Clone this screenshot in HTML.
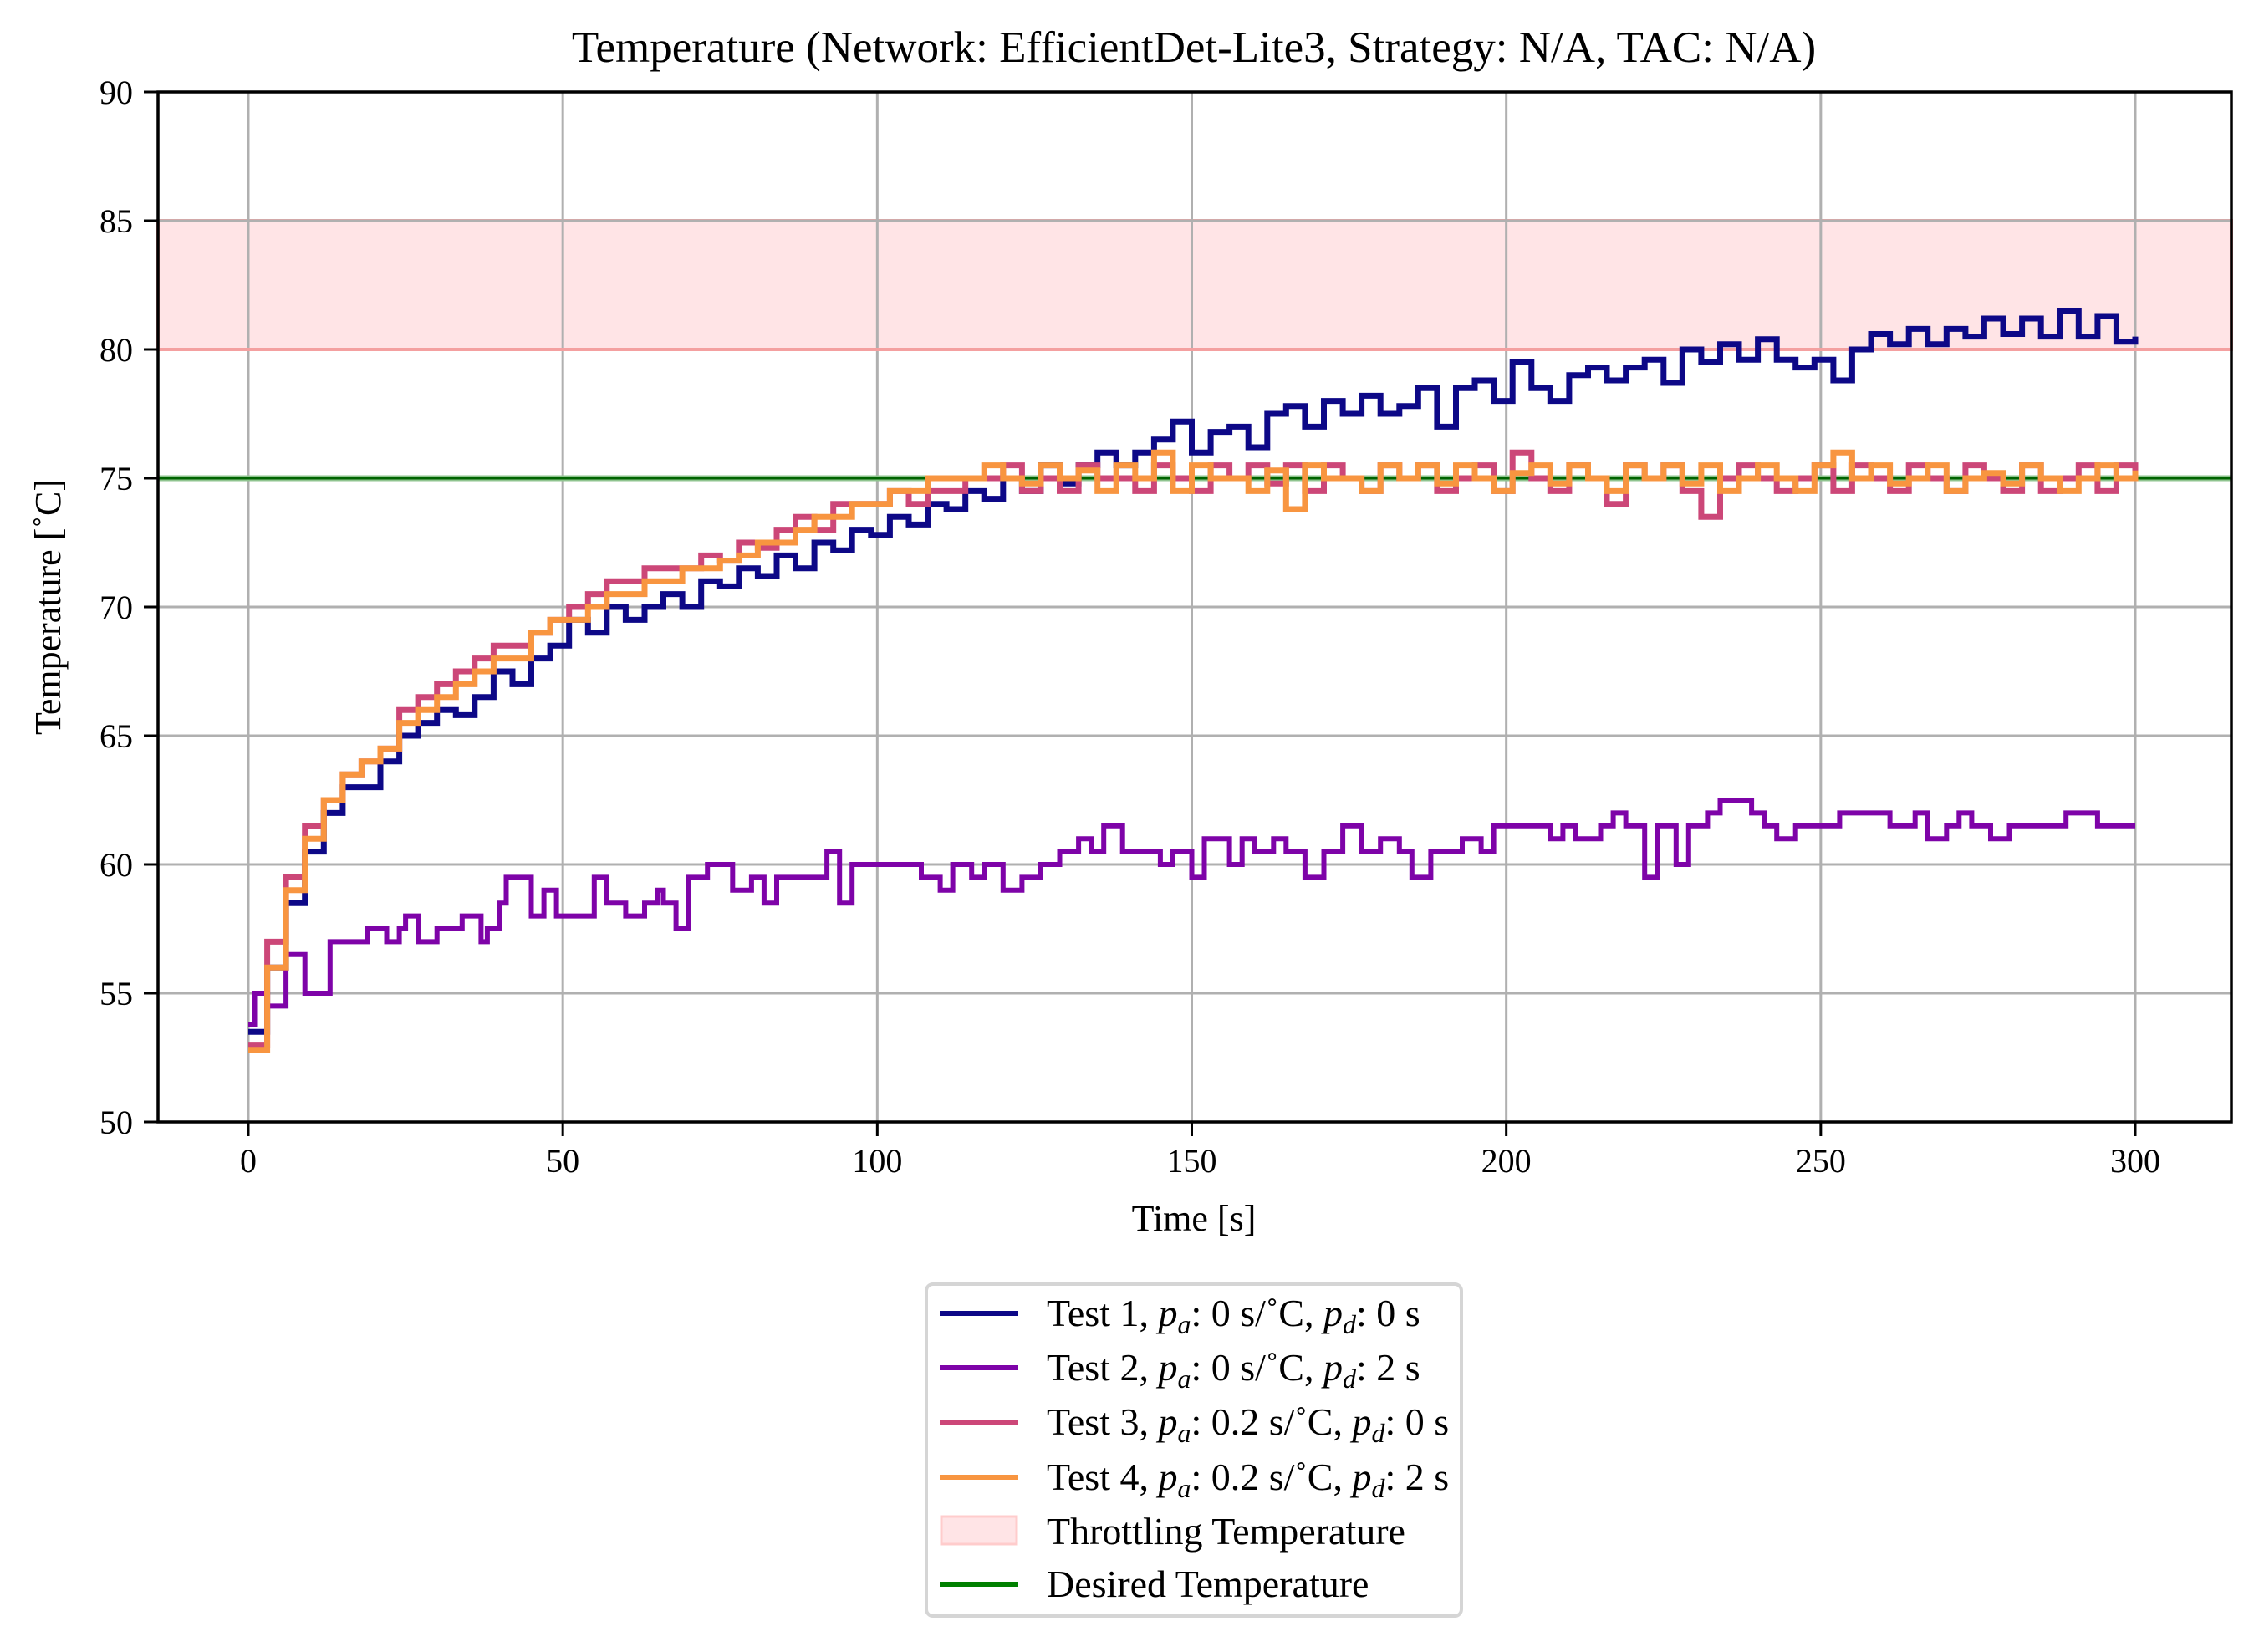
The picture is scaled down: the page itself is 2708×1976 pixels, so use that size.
<!DOCTYPE html>
<html><head><meta charset="utf-8"><style>
html,body{margin:0;padding:0;background:#fff}
svg{display:block;font-family:"Liberation Serif","DejaVu Serif",serif}
</style></head><body>
<svg id="chart" xmlns="http://www.w3.org/2000/svg" width="2708" height="1976" viewBox="0 0 2708 1976">
<text x="1428" y="74" font-size="53" text-anchor="middle">Temperature (Network: EfficientDet-Lite3, Strategy: N/A, TAC: N/A)</text>
<text x="1428" y="1472" font-size="44" text-anchor="middle">Time [s]</text>
<text x="0" y="0" font-size="44" text-anchor="middle" transform="translate(72,726) rotate(-90)">Temperature [˚C]</text>
<g id="plot"></g>
<g>
<rect x="1108" y="1536" width="640" height="397" rx="8" fill="#fff" stroke="#d5d5d5" stroke-width="4"/>
<g><line x1="1124" y1="1571" x2="1218" y2="1571" stroke="#0d0887" stroke-width="6"/><text x="1252" y="1586" font-size="46">Test 1, <tspan font-style="italic">p<tspan font-size="32" dy="9">a</tspan></tspan><tspan dy="-9">: 0 s/˚C, </tspan><tspan font-style="italic">p<tspan font-size="32" dy="9">d</tspan></tspan><tspan dy="-9">: 0 s</tspan></text></g>
<g><line x1="1124" y1="1636" x2="1218" y2="1636" stroke="#7e03a8" stroke-width="6"/><text x="1252" y="1651" font-size="46">Test 2, <tspan font-style="italic">p<tspan font-size="32" dy="9">a</tspan></tspan><tspan dy="-9">: 0 s/˚C, </tspan><tspan font-style="italic">p<tspan font-size="32" dy="9">d</tspan></tspan><tspan dy="-9">: 2 s</tspan></text></g>
<g><line x1="1124" y1="1701" x2="1218" y2="1701" stroke="#cc4778" stroke-width="6"/><text x="1252" y="1716" font-size="46">Test 3, <tspan font-style="italic">p<tspan font-size="32" dy="9">a</tspan></tspan><tspan dy="-9">: 0.2 s/˚C, </tspan><tspan font-style="italic">p<tspan font-size="32" dy="9">d</tspan></tspan><tspan dy="-9">: 0 s</tspan></text></g>
<g><line x1="1124" y1="1767" x2="1218" y2="1767" stroke="#f89540" stroke-width="6"/><text x="1252" y="1782" font-size="46">Test 4, <tspan font-style="italic">p<tspan font-size="32" dy="9">a</tspan></tspan><tspan dy="-9">: 0.2 s/˚C, </tspan><tspan font-style="italic">p<tspan font-size="32" dy="9">d</tspan></tspan><tspan dy="-9">: 2 s</tspan></text></g>
<g><rect x="1126" y="1814" width="90" height="33" fill="#ffe4e6" stroke="#ffcccc" stroke-width="3"/><text x="1252" y="1847" font-size="46">Throttling Temperature</text></g>
<g><line x1="1124" y1="1895" x2="1218" y2="1895" stroke="#008000" stroke-width="6"/><text x="1252" y="1910" font-size="46">Desired Temperature</text></g>
</g>
</svg>
<script>
const xTicks=[0,50,100,150,200,250,300];
const yTicks=[50,55,60,65,70,75,80,85,90];
const dt=3;
const test1=[53.5,56,58.5,60.5,62,63,63,64,65,65.5,66,65.8,66.5,67.5,67,68,68.5,69.5,69,70,69.5,70,70.5,70,71,70.8,71.5,71.2,72,71.5,72.5,72.2,73,72.8,73.5,73.2,74,73.8,74.5,74.2,75,74.5,75.5,74.8,75.5,76,75.5,76,76.5,77.2,76,76.8,77,76.2,77.5,77.8,77,78,77.5,78.2,77.5,77.8,78.5,77,78.5,78.8,78,79.5,78.5,78,79,79.3,78.8,79.3,79.6,78.7,80,79.5,80.2,79.6,80.4,79.6,79.3,79.6,78.8,80,80.6,80.2,80.8,80.2,80.8,80.5,81.2,80.6,81.2,80.5,81.5,80.5,81.3,80.3,80.5];
const test3=[53,57,59.5,61.5,62.5,63.5,64,64.5,66,66.5,67,67.5,68,68.5,68.5,69,69.5,70,70.5,71,71,71.5,71.5,71.5,72,71.8,72.5,72.3,73,73.5,73,74,74,74,74.5,74,74.5,74.5,75,75,75.5,74.5,75,74.5,75.5,75,75,74.5,75.5,75,74.5,75.5,75,75.5,74.8,75.5,74.5,75.5,75,74.5,75.5,75,75.5,74.5,75,75.5,74.5,76,75,74.5,75.5,75,74,75.5,75,75.5,74.5,73.5,75,75.5,75,74.5,75,75.5,74.5,75.5,75,74.5,75.5,75,74.5,75.5,75,74.5,75.5,74.5,75,75.5,74.5,75.5,75];
const test4=[52.8,56,59,61,62.5,63.5,64,64.5,65.5,66,66.5,67,67.5,68,68,69,69.5,69.5,70,70.5,70.5,71,71,71.5,71.5,71.8,72,72.5,72.5,73,73.5,73.5,74,74,74.5,74.5,75,75,75,75.5,75,74.8,75.5,75,75.3,74.5,75.5,75,76,74.5,75.5,75,75,74.5,75.3,73.8,75.5,75,75,74.5,75.5,75,75.5,74.8,75.5,75,74.5,75.2,75.5,74.8,75.5,75,74.5,75.5,75,75.5,74.8,75.5,74.5,75,75.5,75,74.5,75.5,76,75,75.5,74.8,75,75.5,74.5,75,75.2,74.8,75.5,75,74.5,75,75.5,75,75.3];
const test2Times=[0,1,3,6,9,13,19,22,24,25,27,30,32,34,37,38,40,41,45,47,49,55,57,60,63,65,66,68,70,73,77,80,82,84,92,94,96,107,110,112,115,117,120,123,126,129,132,134,136,139,141,145,147,150,152,156,158,160,163,165,168,171,174,177,180,183,185,188,193,196,198,207,209,211,215,217,219,222,224,227,229,232,234,239,241,243,246,253,261,265,267,270,272,274,277,280,289,294,298];
const test2Values=[53.8,55,54.5,56.5,55,57,57.5,57,57.5,58,57,57.5,57.5,58,57,57.5,58.5,59.5,58,59,58,59.5,58.5,58,58.5,59,58.5,57.5,59.5,60,59,59.5,58.5,59.5,60.5,58.5,60,59.5,59,60,59.5,60,59,59.5,60,60.5,61,60.5,61.5,60.5,60.5,60,60.5,59.5,61,60,61,60.5,61,60.5,59.5,60.5,61.5,60.5,61,60.5,59.5,60.5,61,60.5,61.5,61,61.5,61,61.5,62,61.5,59.5,61.5,60,61.5,62,62.5,62,61.5,61,61.5,62,61.5,62,61,61.5,62,61.5,61,61.5,62,61.5,61.5];
const throttleBand=[80,85];
const desiredTemp=75;

const L=189,R=2669,T=110,B=1342,X0=297,X300=2554;
const sx=t=>X0+(X300-X0)*t/300;
const sy=v=>B-(B-T)*(v-50)/40;
const NS="http://www.w3.org/2000/svg";
const plot=document.getElementById('plot');
function mk(tag,attrs,parent){const e=document.createElementNS(NS,tag);for(const k in attrs)e.setAttribute(k,attrs[k]);(parent||plot).appendChild(e);return e;}

const band=mk('rect',{x:L,y:sy(throttleBand[1]),width:R-L,height:sy(throttleBand[0])-sy(throttleBand[1]),fill:'#ffe4e6',stroke:'#f4a0a0','stroke-width':4});



xTicks.forEach(t=>{
 const g=mk('line',{x1:sx(t),x2:sx(t),y1:T,y2:B,stroke:'#b0b0b0','stroke-width':3});
 
 
 const tk=mk('line',{x1:sx(t),x2:sx(t),y1:B,y2:B+17,stroke:'#000','stroke-width':3});
 
 
 const tx=mk('text',{x:sx(t),y:B+60,'font-size':40,'text-anchor':'middle'});
 tx.textContent=t;
 
 
});
yTicks.forEach(v=>{
 const g=mk('line',{x1:L,x2:R,y1:sy(v),y2:sy(v),stroke:'#b0b0b0','stroke-width':3});
 
 
 const tk=mk('line',{x1:L-17,x2:L,y1:sy(v),y2:sy(v),stroke:'#000','stroke-width':3});
 
 
 const tx=mk('text',{x:L-30,y:sy(v)+14,'font-size':40,'text-anchor':'end'});
 tx.textContent=v;
 
 
});
const bl=mk('line',{x1:L,x2:R,y1:sy(throttleBand[0]),y2:sy(throttleBand[0]),stroke:'#f4a0a0','stroke-width':4});



const dlh=mk('line',{x1:L,x2:R,y1:sy(desiredTemp),y2:sy(desiredTemp),stroke:'#8fc48f','stroke-width':7});


const dl=mk('line',{x1:L,x2:R,y1:sy(desiredTemp),y2:sy(desiredTemp),stroke:'#006400','stroke-width':3});



function stepPath(times,vals){
 let d='M'+sx(times[0]).toFixed(1)+','+sy(vals[0]).toFixed(1);
 for(let i=1;i<vals.length;i++){d+='H'+sx(times[i]).toFixed(1)+'V'+sy(vals[i]).toFixed(1);}
 d+='H'+sx(300).toFixed(1);
 return d;
}
function regTimes(vals){return vals.map((v,i)=>i*dt);}
const p1=mk('path',{d:stepPath(regTimes(test1),test1),fill:'none',stroke:'#0d0887','stroke-width':7});


const p2=mk('path',{d:stepPath(test2Times,test2Values),fill:'none',stroke:'#7e03a8','stroke-width':6});


const p3=mk('path',{d:stepPath(regTimes(test3),test3),fill:'none',stroke:'#cc4778','stroke-width':7});


const p4=mk('path',{d:stepPath(regTimes(test4),test4),fill:'none',stroke:'#f89540','stroke-width':7});



const fr=mk('rect',{x:L,y:T,width:R-L,height:B-T,fill:'none',stroke:'#000','stroke-width':3.5});


</script>
</body></html>
